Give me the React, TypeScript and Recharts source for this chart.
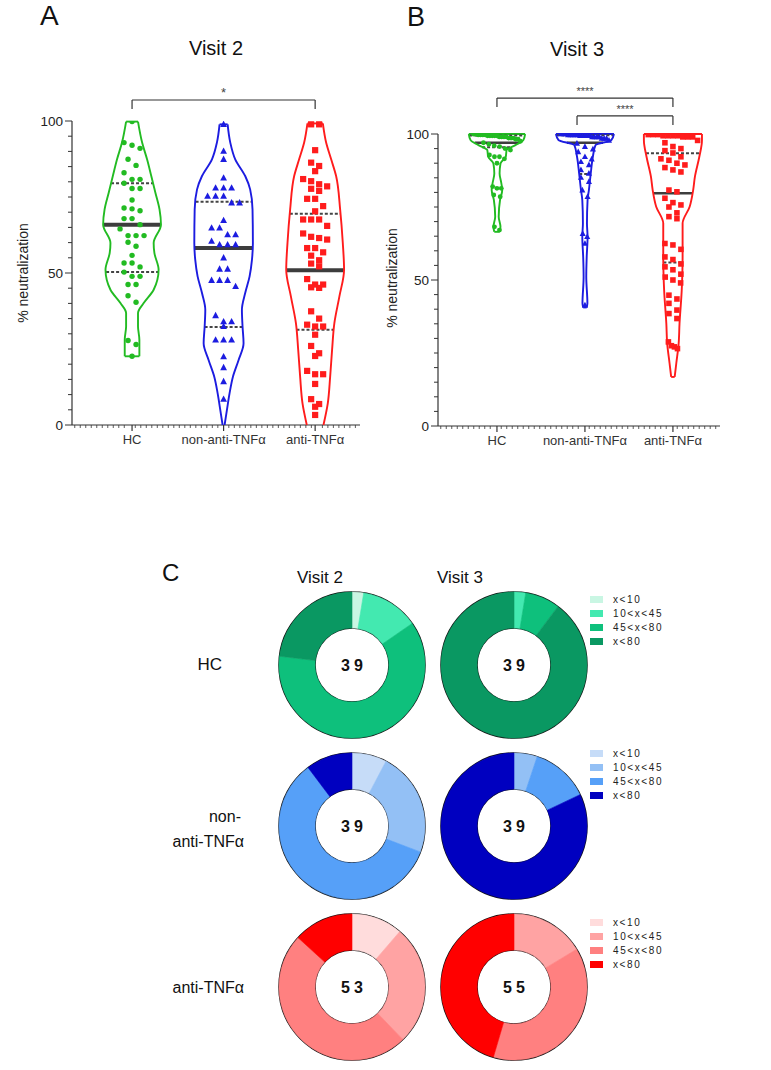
import React from "react";
import {
  ScatterChart, Scatter, XAxis, YAxis, ReferenceLine, PieChart, Pie, Cell, Label, Legend,
} from "recharts";

const FONT = "'Liberation Sans', Arial, Helvetica, sans-serif";
const AXIS = "#333333";
const MEDIAN = "#3d3d3d";

const GROUPS = ["HC", "non-anti-TNFα", "anti-TNFα"];
const GROUP_COLORS = ["#22bb22", "#1c1ce0", "#ff1c1c"];

/* Visit 2 — % neutralization per patient */
const HC_V2 = [99.8, 92.9, 92.0, 91.0, 87.4, 85.4, 83.0, 80.8, 80.8, 79.5, 77.8, 77.8, 74.0, 71.4, 71.1, 70.5, 67.9, 67.9, 65.9, 64.5, 62.3, 62.3, 62.3, 60.1, 58.8, 55.8, 53.3, 53.3, 52.0, 50.3, 48.9, 48.9, 46.2, 46.2, 42.5, 40.4, 27.8, 26.5, 22.6];
const NON_V2 = [98.9, 90.1, 87.4, 81.3, 78.0, 78.0, 78.0, 75.3, 75.3, 75.3, 73.1, 73.1, 67.3, 64.8, 64.8, 62.6, 62.6, 60.5, 59.3, 59.3, 59.3, 55.0, 51.3, 51.3, 47.6, 47.6, 47.6, 45.6, 36.0, 34.0, 34.0, 32.4, 28.0, 28.0, 28.0, 22.5, 18.9, 14.3, 8.5];
const ANTI_V2 = [98.9, 98.9, 90.4, 86.3, 85.2, 83.5, 80.9, 80.2, 79.2, 78.5, 77.7, 77.0, 74.4, 74.4, 72.0, 70.3, 67.6, 67.6, 67.6, 65.5, 63.0, 61.9, 61.5, 61.0, 58.2, 58.2, 56.8, 55.7, 54.2, 53.1, 52.2, 48.0, 46.2, 46.2, 45.3, 45.1, 37.4, 35.0, 33.0, 32.4, 32.4, 29.7, 26.0, 23.6, 22.7, 17.8, 16.7, 16.7, 13.5, 8.5, 6.9, 6.0, 3.3];

/* Visit 3 */
const HC_V3 = [100, 100, 99.7, 99.7, 99.7, 99.7, 99.4, 99.4, 99.4, 99.4, 99.4, 99.0, 99.0, 99.0, 99.0, 98.6, 98.6, 98.6, 98.2, 98.2, 97.5, 97.0, 96.5, 96.0, 95.7, 95.0, 94.5, 92.8, 92.2, 92.2, 91.5, 90.0, 82.0, 81.4, 81.4, 79.1, 78.5, 68.2, 67.1];
const NON_V3 = [100, 100, 100, 99.7, 99.7, 99.7, 99.7, 99.7, 99.4, 99.4, 99.4, 99.4, 99.4, 99.0, 99.0, 99.0, 99.0, 98.5, 98.5, 98.5, 97.8, 96.8, 95.7, 94.8, 93.9, 92.2, 91.4, 90.5, 89.4, 87.7, 86.5, 85.1, 83.7, 80.8, 78.5, 65.9, 64.8, 62.5, 41.4];
const ANTI_V3 = [99.8, 99.8, 99.8, 99.4, 99.4, 99.4, 99.4, 99.0, 99.0, 99.0, 97.8, 97.0, 95.7, 95.0, 94.3, 93.5, 92.2, 91.5, 91.0, 90.0, 89.4, 88.5, 87.7, 87.0, 80.8, 80.2, 78.0, 76.5, 75.7, 75.0, 73.0, 71.7, 71.0, 62.5, 62.0, 60.5, 57.9, 57.0, 55.5, 54.5, 53.5, 52.0, 51.0, 50.0, 49.0, 44.8, 43.5, 42.0, 39.7, 38.5, 36.8, 28.8, 27.5, 27.1, 26.5];

/* violin outlines: [value, half width in category units] */
const HC_V2_SHAPE = [[99.8, 0.065], [92.9, 0.11], [87.4, 0.164], [81.9, 0.21], [76.4, 0.255], [70.9, 0.3], [65.9, 0.316], [59.9, 0.236], [56.6, 0.244], [51.1, 0.29], [44.5, 0.236], [40.1, 0.127], [36.8, 0.065], [32.4, 0.065], [28.0, 0.08], [22.6, 0.08]];
const NON_V2_SHAPE = [[98.9, 0.044], [92.9, 0.073], [87.4, 0.127], [81.9, 0.236], [77.5, 0.29], [70.9, 0.316], [59.9, 0.32], [54.4, 0.31], [48.9, 0.284], [43.4, 0.236], [37.9, 0.2], [32.4, 0.207], [26.9, 0.218], [21.4, 0.164], [15.9, 0.102], [10.4, 0.065], [4.9, 0.036], [0, 0.011]];
const ANTI_V2_SHAPE = [[99.2, 0.084], [92.9, 0.12], [87.4, 0.175], [81.9, 0.229], [70.9, 0.273], [59.9, 0.302], [51.1, 0.316], [42.3, 0.265], [33.5, 0.21], [24.7, 0.185], [15.9, 0.164], [7.1, 0.138], [0, 0.091]];
const HC_V3_SHAPE = [[100, 0.32], [97.9, 0.3], [96.2, 0.21], [94.5, 0.11], [92.2, 0.1], [89.9, 0.04], [86.5, 0.03], [83.1, 0.05], [80.8, 0.06], [77.4, 0.035], [71.7, 0.02], [68.2, 0.04], [66.5, 0.03]];
const NON_V3_SHAPE = [[100, 0.33], [97.9, 0.3], [96.2, 0.12], [92.2, 0.09], [86.5, 0.066], [80.8, 0.045], [77.4, 0.03], [69.4, 0.023], [64.8, 0.03], [57.9, 0.02], [51.1, 0.015], [42.0, 0.028], [40.6, 0.02]];
const ANTI_V3_SHAPE = [[100, 0.33], [97.9, 0.33], [92.2, 0.3], [85.4, 0.25], [80.8, 0.23], [75.1, 0.19], [69.4, 0.11], [57.9, 0.11], [46.5, 0.1], [35.1, 0.075], [28.2, 0.065], [21.4, 0.038], [16.8, 0.02]];

const V2_MEDIAN = [65.9, 58.2, 50.9];
const V2_Q3 = [79.5, 73.4, 69.5];
const V2_Q1 = [50.3, 32.2, 31.3];
const V3_MEDIAN = [97.0, 97.0, 79.7];
const V3_Q3 = [99.5, 99.6, 93.4];
const V3_Q1 = [95.5, 86.3, 56.0];

const V2_BRACKETS = [{ from: 1, to: 3, label: "*" }];
const V3_BRACKETS = [{ from: 1, to: 3, label: "****" }, { from: 2, to: 3, label: "****" }];

/* panel C — patients per neutralization class */
const CLASS_LABELS = ["x<10", "10<x<45", "45<x<80", "x<80"];
const HC_COUNTS = [[1, 5, 24, 9], [0, 1, 3, 35]];
const NON_COUNTS = [[3, 9, 23, 4], [0, 2, 5, 32]];
const ANTI_COUNTS = [[6, 14, 26, 7], [0, 9, 21, 25]];
const GREENS = ["#c9f6e3", "#43e9b0", "#0ec07c", "#0a9862"];
const BLUES = ["#c6dcf8", "#93c0f5", "#56a0f8", "#0000c0"];
const REDS = ["#ffdcdc", "#ffa3a3", "#ff8080", "#ff0000"];

const Y_TICKS = Array.from({ length: 21 }, (_, i) => i * 5);

function halfWidthAt(shape: number[][], v: number) {
  for (let i = 0; i < shape.length - 1; i++) {
    const [v0, w0] = shape[i];
    const [v1, w1] = shape[i + 1];
    if (v <= v0 && v >= v1) return w0 + ((w1 - w0) * (v0 - v)) / (v0 - v1 || 1);
  }
  return shape[0][1];
}

// rows of nearby values spread sideways, GraphPad-style
function swarm(values: number[], c: number, shape: number[][], pxX: number, pxY: number, gap: number) {
  const sorted = [...values].sort((a, b) => b - a);
  const out: { x: number; y: number }[] = [];
  let i = 0;
  while (i < sorted.length) {
    let j = i + 1;
    while (j < sorted.length && (sorted[i] - sorted[j]) * pxY < gap) j++;
    const row = sorted.slice(i, j);
    const n = row.length;
    const room = 2 * halfWidthAt(shape, row[Math.floor(n / 2)]) * pxX * 0.85;
    const step = n > 1 ? Math.min(gap + 0.5, room / (n - 1)) : 0;
    row.forEach((v, k) => out.push({ x: c + ((k - (n - 1) / 2) * step) / pxX, y: v }));
    i = j;
  }
  return out;
}

function xTicks(lo: number, hi: number, step: number) {
  const t: number[] = [];
  for (let v = lo + step / 2; v < hi; v += step) t.push(+v.toFixed(4));
  return [...t.filter((v) => Math.abs(v - Math.round(v)) > step / 2), 1, 2, 3].sort((a, b) => a - b);
}

const noShape = () => <g />;

function YTick({ x, y, payload }: any) {
  const major = payload.value % 50 === 0;
  return (
    <g>
      <line x1={x - (major ? 7 : 4)} x2={x} y1={y} y2={y} stroke={AXIS} strokeWidth={1} />
      {major && (
        <text x={x - 9} y={y} dy="0.36em" textAnchor="end" fontSize={13.5} fill="#222" fontFamily={FONT}>
          {payload.value}
        </text>
      )}
    </g>
  );
}

function XTick({ x, y, payload }: any) {
  const cat = Number.isInteger(payload.value);
  return (
    <g>
      <line x1={x} x2={x} y1={y} y2={y + (cat ? 6 : 3)} stroke={AXIS} strokeWidth={cat ? 1.2 : 0.8} />
      {cat && (
        <text x={x} y={y + 19} textAnchor="middle" fontSize={13} fill="#333" fontFamily={FONT}>
          {GROUPS[payload.value - 1]}
        </text>
      )}
    </g>
  );
}

const markers = [
  (color: string, s: number) => (p: any) => <circle cx={p.cx} cy={p.cy} r={2.7 * s} fill={color} />,
  (color: string, s: number) => (p: any) => (
    <polygon
      points={`${p.cx},${p.cy - 3.7 * s} ${p.cx + 3.4 * s},${p.cy + 2.6 * s} ${p.cx - 3.4 * s},${p.cy + 2.6 * s}`}
      fill={color}
    />
  ),
  (color: string, s: number) => (p: any) => (
    <rect x={p.cx - 3.1 * s} y={p.cy - 3.1 * s} width={6.2 * s} height={6.2 * s} fill={color} />
  ),
];

interface PanelProps {
  sets: number[][];
  shapes: number[][][];
  medians: number[];
  q1: number[];
  q3: number[];
  brackets: { from: number; to: number; label: string }[];
  bracketLevels: number[];
  bracketStarts: number[];
  domainX: [number, number];
  px: { x: number; y: number };
  margin: { top: number; right: number; bottom: number; left: number };
  width: number;
  height: number;
  medianWidth: number;
  markerScale: number;
  starSize: number;
}

function ViolinPanel(p: PanelProps) {
  const els: React.ReactNode[] = [];
  p.shapes.forEach((shape, g) => {
    const c = g + 1;
    const color = GROUP_COLORS[g];
    const right = shape.map(([v, w]) => ({ x: c + w, y: v }));
    const left = shape.map(([v, w]) => ({ x: c - w, y: v }));
    const [topV, topW] = shape[0];
    const [botV, botW] = shape[shape.length - 1];
    els.push(
      <Scatter key={`r${g}`} data={right} fill={color} line={{ stroke: color, strokeWidth: 1.9 }} lineJointType="monotoneY" shape={noShape} isAnimationActive={false} />,
      <Scatter key={`l${g}`} data={left} fill={color} line={{ stroke: color, strokeWidth: 1.9 }} lineJointType="monotoneY" shape={noShape} isAnimationActive={false} />,
      <ReferenceLine key={`t${g}`} segment={[{ x: c - topW, y: topV }, { x: c + topW, y: topV }]} stroke={color} strokeWidth={1.9} ifOverflow="visible" />,
    );
    if (botV > 0) {
      els.push(
        <ReferenceLine key={`b${g}`} segment={[{ x: c - botW, y: botV }, { x: c + botW, y: botV }]} stroke={color} strokeWidth={1.9} ifOverflow="visible" />,
      );
    }
  });
  p.sets.forEach((vals, g) => {
    els.push(
      <Scatter
        key={`p${g}`}
        data={swarm(vals, g + 1, p.shapes[g], p.px.x, p.px.y, 7.5)}
        fill={GROUP_COLORS[g]}
        shape={markers[g](GROUP_COLORS[g], p.markerScale)}
        isAnimationActive={false}
      />,
    );
  });
  p.shapes.forEach((shape, g) => {
    const c = g + 1;
    [p.q3[g], p.q1[g]].forEach((q, k) => {
      const w = halfWidthAt(shape, q);
      els.push(
        <ReferenceLine key={`q${g}${k}`} segment={[{ x: c - w, y: q }, { x: c + w, y: q }]} stroke="#444" strokeWidth={2} strokeDasharray="3 2" ifOverflow="visible" />,
      );
    });
    const w = halfWidthAt(shape, p.medians[g]);
    els.push(
      <ReferenceLine key={`m${g}`} segment={[{ x: c - w, y: p.medians[g] }, { x: c + w, y: p.medians[g] }]} stroke={MEDIAN} strokeWidth={p.medianWidth} ifOverflow="visible" />,
    );
  });
  p.brackets.forEach((b, i) => {
    const lvl = p.bracketLevels[i];
    const x0 = p.bracketStarts[i];
    const drop = 9 / p.px.y;
    els.push(
      <ReferenceLine key={`bl${i}`} segment={[{ x: x0, y: lvl - drop }, { x: x0, y: lvl }]} stroke={AXIS} strokeWidth={1.2} ifOverflow="visible" />,
      <ReferenceLine key={`br${i}`} segment={[{ x: b.to, y: lvl - drop }, { x: b.to, y: lvl }]} stroke={AXIS} strokeWidth={1.2} ifOverflow="visible" />,
      <ReferenceLine
        key={`bh${i}`}
        segment={[{ x: x0, y: lvl }, { x: b.to, y: lvl }]}
        stroke={AXIS}
        strokeWidth={1.2}
        ifOverflow="visible"
        label={(lp: any) => {
          const vb = lp.viewBox || {};
          return (
            <text x={vb.x + vb.width / 2} y={vb.y - 3} textAnchor="middle" fontSize={p.starSize} fill="#444" fontFamily={FONT}>
              {b.label}
            </text>
          );
        }}
      />,
    );
  });

  return (
    <ScatterChart width={p.width} height={p.height} margin={p.margin}>
      <XAxis
        type="number"
        dataKey="x"
        domain={p.domainX}
        allowDataOverflow
        ticks={xTicks(p.domainX[0], p.domainX[1], 5.5 / p.px.x)}
        interval={0}
        tick={<XTick />}
        tickSize={0}
        tickMargin={0}
        height={25}
        axisLine={{ stroke: AXIS, strokeWidth: 1.2 }}
      />
      <YAxis
        type="number"
        dataKey="y"
        domain={[0, 100]}
        allowDataOverflow
        ticks={Y_TICKS}
        interval={0}
        tick={<YTick />}
        tickSize={0}
        tickMargin={0}
        width={40}
        axisLine={{ stroke: AXIS, strokeWidth: 1.2 }}
      />
      {els}
    </ScatterChart>
  );
}

function Donut({ counts, colors, left, top, legendTop }: { counts: number[]; colors: string[]; left: number; top: number; legendTop?: number }) {
  const total = counts.reduce((a, b) => a + b, 0);
  const data = CLASS_LABELS.map((name, i) => ({ name, value: counts[i] }));
  const withLegend = legendTop !== undefined;
  return (
    <div style={{ position: "absolute", left, top }}>
      <PieChart width={withLegend ? 270 : 160} height={160} margin={{ top: 0, right: 0, bottom: 0, left: 0 }}>
        <Pie
          data={data}
          dataKey="value"
          nameKey="name"
          cx={80}
          cy={80}
          innerRadius={37}
          outerRadius={73}
          startAngle={90}
          endAngle={-270}
          stroke="none"
          isAnimationActive={false}
        >
          {data.map((d, i) => (
            <Cell key={d.name} fill={colors[i]} stroke={d.value > 0 ? colors[i] : "none"} strokeWidth={0.6} />
          ))}
          <Label
            value={String(total)}
            position="center"
            fontSize={16}
            fontWeight="bold"
            fill="#111"
            fontFamily={FONT}
            letterSpacing={4}
            dx={2}
          />
        </Pie>
        <circle cx={80} cy={80} r={73} fill="none" stroke="#111" strokeWidth={1.5} />
        <circle cx={80} cy={80} r={37} fill="none" stroke="#111" strokeWidth={1.5} />
        {withLegend && (
          <Legend
            layout="vertical"
            align="right"
            verticalAlign="top"
            wrapperStyle={{ left: 156, top: legendTop, right: "auto", width: 110 }}
            content={() => (
              <div style={{ fontFamily: FONT, fontSize: 10, letterSpacing: 1.6, color: "#222" }}>
                {CLASS_LABELS.map((l, i) => (
                  <div key={l} style={{ display: "flex", alignItems: "center", height: 14 }}>
                    <span style={{ display: "inline-block", width: 13, height: 7, background: colors[i], marginRight: 10 }} />
                    <span>{l}</span>
                  </div>
                ))}
              </div>
            )}
          />
        )}
      </PieChart>
    </div>
  );
}

export default function App() {
  return (
    <div style={{ position: "absolute", left: 0, top: 0, width: 771, height: 1070, background: "#fff", fontFamily: FONT }}>
      <div style={{ position: "absolute", left: 0, top: 0 }}>
        <ViolinPanel
          sets={[HC_V2, NON_V2, ANTI_V2]}
          shapes={[HC_V2_SHAPE, NON_V2_SHAPE, ANTI_V2_SHAPE]}
          medians={V2_MEDIAN}
          q1={V2_Q1}
          q3={V2_Q3}
          brackets={V2_BRACKETS}
          bracketLevels={[106.9]}
          bracketStarts={[1]}
          domainX={[0.344, 3.49]}
          px={{ x: 91.5, y: 3.04 }}
          margin={{ top: 121, right: 20, bottom: 10, left: 32 }}
          width={380}
          height={460}
          medianWidth={4}
          markerScale={1}
          starSize={13}
        />
      </div>
      <div style={{ position: "absolute", left: 380, top: 0 }}>
        <ViolinPanel
          sets={[HC_V3, NON_V3, ANTI_V3]}
          shapes={[HC_V3_SHAPE, NON_V3_SHAPE, ANTI_V3_SHAPE]}
          medians={V3_MEDIAN}
          q1={V3_Q1}
          q3={V3_Q3}
          brackets={V3_BRACKETS}
          bracketLevels={[112.3, 106.2]}
          bracketStarts={[1, 1.91]}
          domainX={[0.33, 3.535]}
          px={{ x: 88, y: 2.92 }}
          margin={{ top: 134, right: 51, bottom: 9, left: 18 }}
          width={391}
          height={460}
          medianWidth={2.5}
          markerScale={0.9}
          starSize={11}
        />
      </div>

      <Donut counts={HC_COUNTS[0]} colors={GREENS} left={272} top={585} />
      <Donut counts={HC_COUNTS[1]} colors={GREENS} left={434} top={585} legendTop={7} />
      <Donut counts={NON_COUNTS[0]} colors={BLUES} left={272} top={746} />
      <Donut counts={NON_COUNTS[1]} colors={BLUES} left={434} top={746} legendTop={0} />
      <Donut counts={ANTI_COUNTS[0]} colors={REDS} left={272} top={907} />
      <Donut counts={ANTI_COUNTS[1]} colors={REDS} left={434} top={907} legendTop={8} />

      <svg width={771} height={1070} style={{ position: "absolute", left: 0, top: 0, pointerEvents: "none" }} fontFamily={FONT} fill="#111">
        <text x={40} y={25} fontSize={28}>A</text>
        <text x={216} y={55} fontSize={20} textAnchor="middle">Visit 2</text>
        <text x={407} y={26} fontSize={27}>B</text>
        <text x={577} y={56} fontSize={20} textAnchor="middle">Visit 3</text>
        <text transform="translate(28,273) rotate(-90)" fontSize={14} textAnchor="middle" fill="#222">% neutralization</text>
        <text transform="translate(397,278) rotate(-90)" fontSize={14} textAnchor="middle" fill="#222">% neutralization</text>

        <text x={162} y={581} fontSize={24}>C</text>
        <text x={320} y={583} fontSize={17} textAnchor="middle">Visit 2</text>
        <text x={460} y={583} fontSize={17} textAnchor="middle">Visit 3</text>
        <text x={222} y={670} fontSize={17} textAnchor="end">HC</text>
        <text x={241} y={822} fontSize={16} textAnchor="end">non-</text>
        <text x={244} y={847} fontSize={16} textAnchor="end">anti-TNFα</text>
        <text x={244} y={993} fontSize={16} textAnchor="end">anti-TNFα</text>
      </svg>
    </div>
  );
}
